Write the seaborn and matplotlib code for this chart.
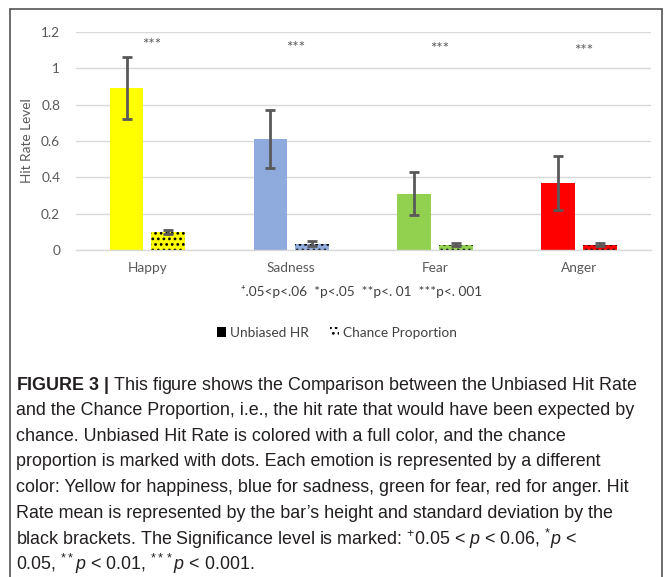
import matplotlib
matplotlib.use("Agg")
import matplotlib.pyplot as plt
from matplotlib.patches import Patch
from matplotlib.lines import Line2D
from matplotlib import font_manager
import seaborn as sns
import pandas as pd

# ---- data ----
categories = ["Happy", "Sadness", "Fear", "Anger"]
series = ["Unbiased HR", "Chance Proportion"]
unbiased_hr = [0.89, 0.61, 0.31, 0.37]
unbiased_sd = [0.17, 0.16, 0.12, 0.15]
chance_prop = [0.10, 0.035, 0.03, 0.03]
chance_sd = [0.012, 0.012, 0.01, 0.01]
colors = ["#FFFF00", "#8FAADC", "#92D050", "#FF0000"]
stars = ["***", "***", "***", "***"]
star_y = [1.128, 1.114, 1.106, 1.095]
yticks = [0, 0.2, 0.4, 0.6, 0.8, 1.0, 1.2]
ytick_labels = ["0", "0.2", "0.4", "0.6", "0.8", "1", "1.2"]
sig_note = "\u207a.05<p<.06  *p<.05  **p<. 01  ***p<. 001"

caption_lines = [
    r"$\mathbf{FIGURE\ 3\ |}$ This figure shows the Comparison between the Unbiased Hit Rate",
    "and the Chance Proportion, i.e., the hit rate that would have been expected by",
    "chance. Unbiased Hit Rate is colored with a full color, and the chance",
    "proportion is marked with dots. Each emotion is represented by a different",
    "color: Yellow for happiness, blue for sadness, green for fear, red for anger. Hit",
    "Rate mean is represented by the bar\u2019s height and standard deviation by the",
    r"black brackets. The Significance level is marked: $^{+}$0.05 < $p$ < 0.06, $^{*}p$ <",
    r"0.05, $^{**}p$ < 0.01, $^{***}p$ < 0.001.",
]

names = {f.name for f in font_manager.fontManager.ttflist}
chart_font = "Lato" if "Lato" in names else "DejaVu Sans"
cap_font = "Liberation Sans Narrow" if "Liberation Sans Narrow" in names else "Liberation Sans"

sns.set_theme(style="white")
plt.rcParams["font.family"] = [chart_font, "DejaVu Sans"]
plt.rcParams["mathtext.fontset"] = "custom"
plt.rcParams["mathtext.rm"] = cap_font
plt.rcParams["mathtext.it"] = cap_font + ":italic"
plt.rcParams["mathtext.bf"] = cap_font + ":bold"
plt.rcParams["hatch.linewidth"] = 1.2

df = pd.DataFrame({
    "Emotion": categories * 2,
    "Series": [series[0]] * 4 + [series[1]] * 4,
    "Value": unbiased_hr + chance_prop,
})
sds = unbiased_sd + chance_sd

W, H = 665, 577
fig = plt.figure(figsize=(W / 100, H / 100), dpi=100)
ax = fig.add_axes([75.5 / W, 1 - 250 / H, (651 - 75.5) / W, (250 - 32) / H])

sns.barplot(data=df, x="Emotion", y="Value", hue="Series", order=categories,
            hue_order=series, errorbar=None, width=0.58, gap=0.19, ax=ax,
            legend=False, saturation=1)

bars = ax.patches
for i, p in enumerate(bars[:4]):
    p.set_facecolor(colors[i])
    p.set_edgecolor(colors[i])
    p.set_linewidth(0)
for i, p in enumerate(bars[4:8]):
    p.set_facecolor(colors[i])
    p.set_edgecolor("black")
    p.set_hatch("...")
    p.set_linewidth(0)

xs = [p.get_x() + p.get_width() / 2 for p in bars[:8]]
ys = [p.get_height() for p in bars[:8]]
ax.errorbar(xs, ys, yerr=sds, fmt="none", ecolor="#595959", elinewidth=2,
            capsize=3.5, capthick=2, zorder=5)

for i, s in enumerate(stars):
    ax.text(i + 0.03, star_y[i], s, ha="center", va="center", fontsize=11,
            color="#595959")

ax.set_ylim(0, 1.2)
ax.set_xlim(-0.5, 3.5)
ax.set_yticks(yticks)
ax.set_yticklabels(ytick_labels)
ax.yaxis.grid(True, color="#D9D9D9", linewidth=1)
ax.set_axisbelow(True)
for s in ["top", "right", "left"]:
    ax.spines[s].set_visible(False)
ax.spines["bottom"].set_color("#D9D9D9")
ax.spines["bottom"].set_linewidth(1)
ax.tick_params(axis="both", length=0, labelsize=9.8, labelcolor="#595959")
ax.tick_params(axis="y", pad=11)
ax.tick_params(axis="x", pad=9)
ax.set_xlabel("")
ax.set_ylabel("Hit Rate Level", fontsize=9.8, color="#595959", labelpad=6)

fig.text(362 / W, 1 - 292 / H, sig_note,
         ha="center", va="center", fontsize=9.8, color="#404040")

handles = [Patch(facecolor="black", edgecolor="black", linewidth=0),
           Patch(facecolor="white", edgecolor="black", hatch="...", linewidth=0)]
fig.legend(handles, series, loc="center", bbox_to_anchor=(337 / W, 1 - 333 / H),
           ncol=2, frameon=False, fontsize=9.8, handlelength=0.7, handleheight=0.7,
           handletextpad=0.3, columnspacing=1.5, labelcolor="#404040")

# outer frame
for a, b in [((10, 9), (10, 577)), ((10, 9), (662, 9)), ((662, 9), (662, 577))]:
    fig.add_artist(Line2D([a[0] / W, b[0] / W], [1 - a[1] / H, 1 - b[1] / H],
                          color="#555555", linewidth=1.2))

y0 = 385
for k, line in enumerate(caption_lines):
    fig.text(16 / W, 1 - (y0 + 25.6 * k) / H, line, ha="left", va="center",
             fontsize=12.9, color="#231F20", family=cap_font)

fig.savefig("out.png", dpi=100)
